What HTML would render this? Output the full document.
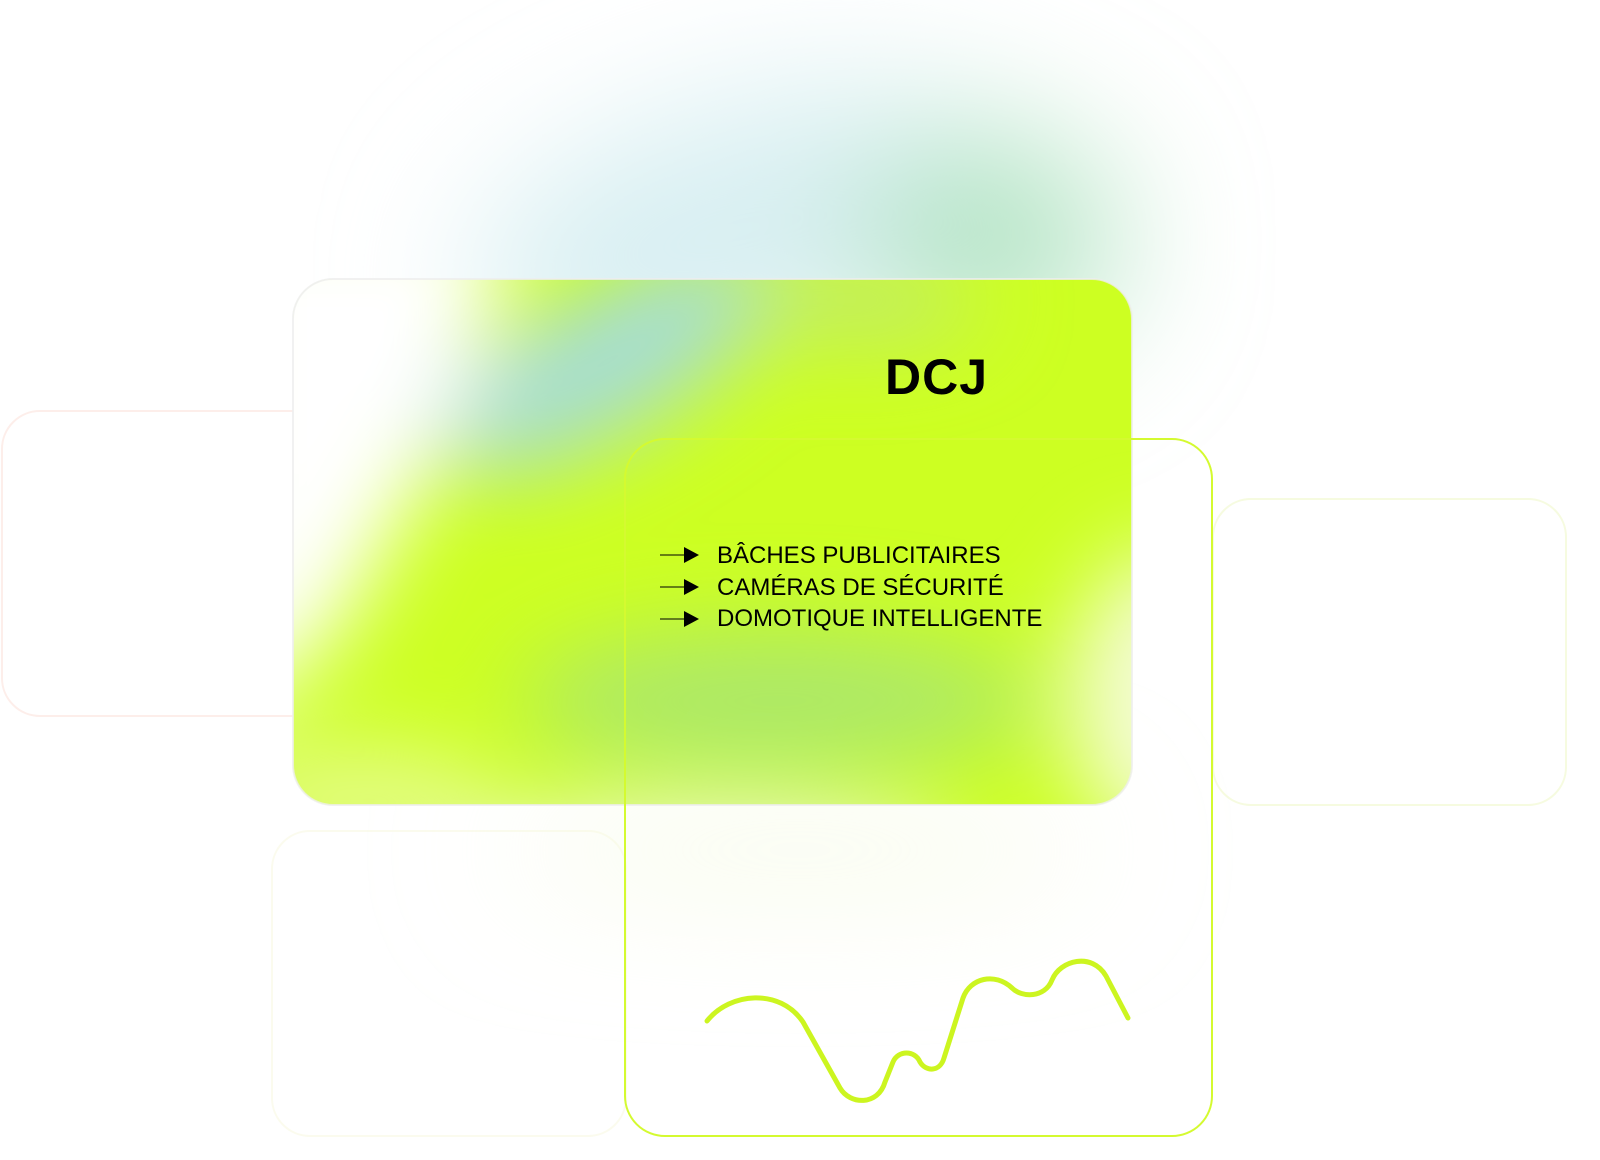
<!DOCTYPE html>
<html><head><meta charset="utf-8"><style>
html,body{margin:0;padding:0;background:#fff;}
body{width:1600px;height:1160px;overflow:hidden;position:relative;font-family:"Liberation Sans",sans-serif;}
svg{position:absolute;left:0;top:0;}
.t{position:absolute;color:#000;}
</style></head><body>
<svg width="1600" height="1160" viewBox="0 0 1600 1160">
<defs>
<filter id="b1" x="-50%" y="-50%" width="200%" height="200%"><feGaussianBlur stdDeviation="70"/></filter>
<filter id="b2" x="-50%" y="-50%" width="200%" height="200%"><feGaussianBlur stdDeviation="45"/></filter>
<clipPath id="card"><rect x="293" y="279" width="839" height="526" rx="40"/></clipPath>
</defs>
<rect x="2" y="411" width="356" height="305" rx="38" fill="none" stroke="#fdeeea" stroke-width="2"/>
<rect x="1213" y="499" width="353" height="306" rx="38" fill="none" stroke="#f6fbe0" stroke-width="2"/>
<rect x="272" y="831" width="354" height="305" rx="38" fill="none" stroke="#fbfbee" stroke-width="2"/>
<g filter="url(#b1)">
<ellipse cx="740" cy="230" rx="280" ry="130" fill="#d8eff2" transform="rotate(-15 740 230)"/>
<ellipse cx="990" cy="240" rx="130" ry="110" fill="#b4e4c4"/>
<ellipse cx="800" cy="850" rx="300" ry="30" fill="#f4fae0"/>
</g>
<g clip-path="url(#card)">
<rect x="293" y="279" width="839" height="526" fill="#cdff22"/>
<g filter="url(#b2)">
<polygon points="200,200 520,200 470,400 330,640 200,740" fill="#ffffff"/>
<ellipse cx="610" cy="360" rx="190" ry="70" fill="#a6dcd8" transform="rotate(-30 610 360)"/>
<ellipse cx="860" cy="300" rx="120" ry="40" fill="#c0ea70"/>
<ellipse cx="780" cy="700" rx="260" ry="70" fill="#ace86a"/>
<ellipse cx="1170" cy="700" rx="100" ry="150" fill="#f4fcd6"/>
<ellipse cx="360" cy="800" rx="140" ry="50" fill="#e6fc90"/>
<ellipse cx="700" cy="860" rx="260" ry="50" fill="#f0f8dc"/>
</g>
</g>
<rect x="293" y="279" width="839" height="526" rx="40" fill="none" stroke="#eeeeee" stroke-opacity="0.8" stroke-width="2"/>
<rect x="625" y="439" width="587" height="697" rx="40" fill="none" stroke="#d4fa30" stroke-width="2"/>
<path d="M707,1021 C730,992 780,988 803,1022 L840,1088 C850,1105 878,1106 885,1082 L893,1062 C898,1050 915,1050 920,1062 C926,1072 940,1072 944,1058 L963,998 C970,978 995,972 1012,988 C1022,998 1045,998 1052,980 C1060,960 1092,952 1106,976 L1128,1018" fill="none" stroke="#ccf520" stroke-width="5" stroke-linecap="round" stroke-linejoin="round"/>
<g fill="#000" stroke="#000">
<line x1="660" y1="555" x2="684" y2="555" stroke-width="1"/><polygon points="684,547 699,555 684,563" stroke="none"/>
<line x1="660" y1="587" x2="684" y2="587" stroke-width="1"/><polygon points="684,579 699,587 684,595" stroke="none"/>
<line x1="660" y1="619" x2="684" y2="619" stroke-width="1"/><polygon points="684,611 699,619 684,627" stroke="none"/>
</g>
</svg>
<div class="t" style="left:885px;top:348px;font-size:50px;font-weight:bold;letter-spacing:1px;">DCJ</div>
<div class="t" style="left:717px;top:540px;font-size:24px;line-height:31.5px;">BÂCHES PUBLICITAIRES<br>CAMÉRAS DE SÉCURITÉ<br>DOMOTIQUE INTELLIGENTE</div>
</body></html>
